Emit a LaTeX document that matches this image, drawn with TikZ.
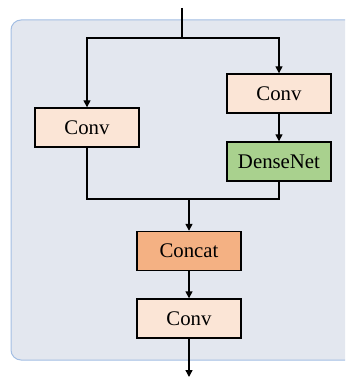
\documentclass[tikz,border=0pt]{standalone}
\usepackage{fontspec}
\setmainfont{Liberation Serif}
\usetikzlibrary{arrows.meta}
\definecolor{panelfill}{HTML}{E3E7EF}
\definecolor{panelline}{HTML}{A3BEE3}
\definecolor{convfill}{HTML}{FBE5D6}
\definecolor{densefill}{HTML}{A9D18E}
\definecolor{catfill}{HTML}{F4B183}
\begin{document}
\begin{tikzpicture}[x=1pt,y=1pt]
	\tikzstyle{every node}+=[inner sep=0pt, font=\fontsize{20.8}{24}\selectfont]
	\tikzstyle{block}=[draw=black, line width=1.4pt, minimum width=104pt, minimum height=39pt]
	\tikzstyle{wire}=[black, line width=1.4pt]
	\tikzstyle{flow}=[wire, -{Triangle[length=7pt,width=7pt]}]
	\useasboundingbox (0,0) rectangle (345,-379);
	\clip (0,0) rectangle (345,-379);
	\draw [panelline, fill=panelfill, line width=1pt, rounded corners=10pt] (11,-20) rectangle (365,-360);
	\node [block, fill=convfill] (conva) at (87,-127.5) {Conv};
	\node [block, fill=convfill] (convb) at (279,-93.5) {Conv};
	\node [block, fill=densefill] (dense) at (279,-161.5) {DenseNet};
	\node [block, fill=catfill] (concat) at (189,-251) {Concat};
	\node [block, fill=convfill] (convc) at (189,-318.5) {Conv};
	\coordinate (in) at (182,-8);
	\coordinate (split) at (182,-38);
	\coordinate (merge) at (189,-199);
	\coordinate (out) at (189,-377);
	\draw [wire] (in) -- (split);
	\draw [flow] (split) -| (conva);
	\draw [flow] (split) -| (convb);
	\draw [flow] (convb) -- (dense);
	\draw [wire] (conva) |- (merge);
	\draw [wire] (dense) |- (merge);
	\draw [flow] (merge) -- (concat);
	\draw [flow] (concat) -- (convc);
	\draw [flow] (convc) -- (out);
\end{tikzpicture}
\end{document}
